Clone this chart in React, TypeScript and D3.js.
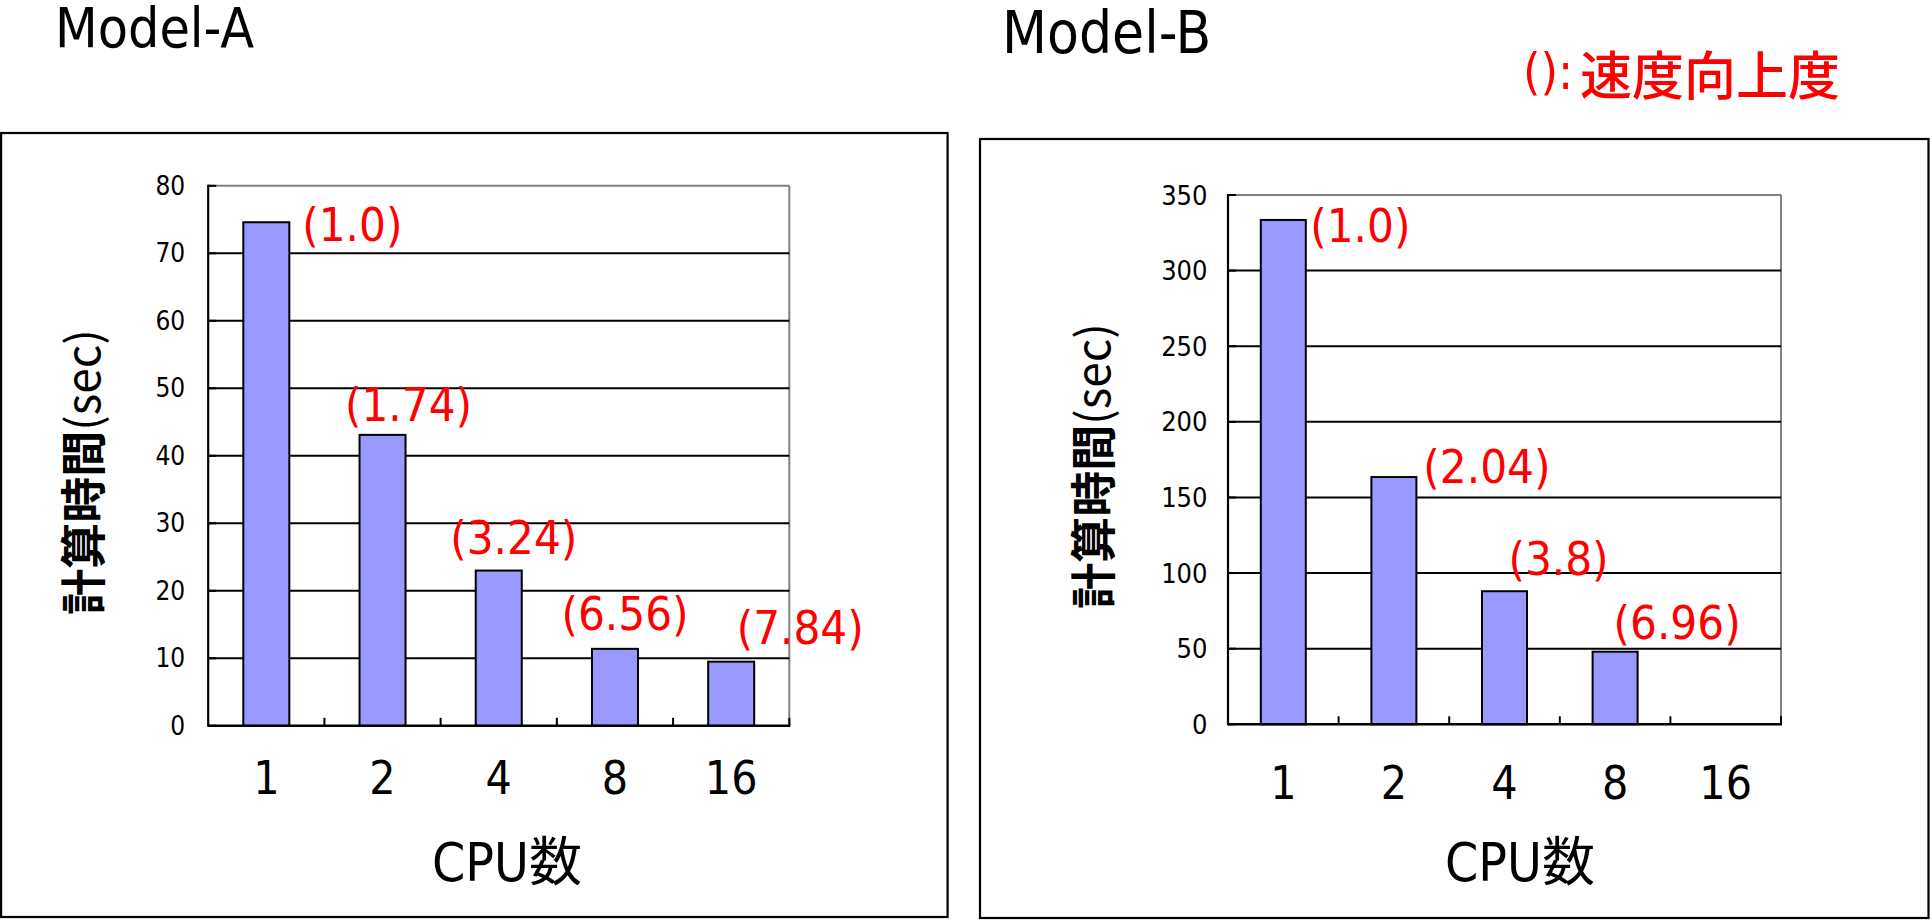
import React from 'react';
import * as d3 from 'd3';

// ---------- data ----------
const categories = ['1', '2', '4', '8', '16'];
const timesA: (number | null)[] = [74.6, 43.1, 23.0, 11.4, 9.5];
const speedupA: (string | null)[] = ['(1.0)', '(1.74)', '(3.24)', '(6.56)', '(7.84)'];
const timesB: (number | null)[] = [333.5, 163.5, 88, 48, null];
const speedupB: (string | null)[] = ['(1.0)', '(2.04)', '(3.8)', '(6.96)', null];
const ticksA = [0, 10, 20, 30, 40, 50, 60, 70, 80];
const ticksB = [0, 50, 100, 150, 200, 250, 300, 350];
const titleA = 'Model-A';
const titleB = 'Model-B';
const legendParen = '():';
const legendKanji = '速度向上度';
const xTitle = 'CPU数';
const yTitleKanji = '計算時間';
const yTitleUnit = '(sec)';

// ---------- layout (pixel offsets of the hand-placed labels) ----------
const labelOffsetsA = [[86, 2], [26, -30], [15, -33], [10, -35], [69, -34]];
const labelOffsetsB = [[77, 6], [93, -11], [54, -33], [62, -29]];

const LATIN = "'DejaVu Sans Condensed', 'DejaVu Sans', 'Noto Sans CJK JP', sans-serif";
const CJK = "'Noto Sans CJK JP', sans-serif";
const BAR_FILL = '#9999FF';

type Cfg = {
  box: { x: number; y: number; w: number; h: number };
  plot: { l: number; r: number; t: number; b: number };
  ticks: number[];
  values: (number | null)[];
  labels: (string | null)[];
  offsets: number[][];
  tickFont: number;
  tickGap: number;
  xLabelY: number;
  xTitleX: number;
  xTitleY: number;
  yTitleX: number;
  yTitleY: number;
  barFrac: number;
};

function Chart({ c }: { c: Cfg }) {
  const x = d3.scaleBand<string>().domain(categories).range([c.plot.l, c.plot.r]).padding(0);
  const y = d3.scaleLinear().domain([0, d3.max(c.ticks) as number]).range([c.plot.b, c.plot.t]);
  const step = x.step();
  const bw = step * c.barFrac;
  const yMax = d3.max(c.ticks) as number;
  return (
    <g>
      <rect x={c.box.x} y={c.box.y} width={c.box.w} height={c.box.h} fill="#fff" stroke="#000" strokeWidth={2.2} />
      {/* plot frame: top & right gray */}
      <line x1={c.plot.l} x2={c.plot.r} y1={c.plot.t} y2={c.plot.t} stroke="#808080" strokeWidth={2} />
      <line x1={c.plot.r} x2={c.plot.r} y1={c.plot.t} y2={c.plot.b} stroke="#808080" strokeWidth={2} />
      {/* gridlines */}
      {c.ticks.filter((t) => t > 0 && t < yMax).map((t) => (
        <line key={'g' + t} x1={c.plot.l} x2={c.plot.r} y1={y(t)} y2={y(t)} stroke="#000" strokeWidth={2} />
      ))}
      {/* y ticks (inward) */}
      {c.ticks.map((t) => (
        <line key={'yt' + t} x1={c.plot.l} x2={c.plot.l + 8} y1={y(t)} y2={y(t)} stroke="#000" strokeWidth={2} />
      ))}
      {/* bars */}
      {c.values.map((v, i) =>
        v == null ? null : (
          <rect
            key={'b' + i}
            x={(x(categories[i]) as number) + (step - bw) / 2}
            y={y(v)}
            width={bw}
            height={y(0) - y(v)}
            fill={BAR_FILL}
            stroke="#000"
            strokeWidth={2}
          />
        )
      )}
      {/* axes */}
      <line x1={c.plot.l} x2={c.plot.l} y1={c.plot.t - 1} y2={c.plot.b + 1} stroke="#000" strokeWidth={2.2} />
      <line x1={c.plot.l} x2={c.plot.r + 1} y1={c.plot.b} y2={c.plot.b} stroke="#000" strokeWidth={2.4} />
      {categories.map((cat, i) => (
        <line
          key={'xt' + i}
          x1={(x(cat) as number) + step}
          x2={(x(cat) as number) + step}
          y1={c.plot.b}
          y2={c.plot.b - 8}
          stroke="#000"
          strokeWidth={2}
        />
      ))}
      {/* y tick labels */}
      {c.ticks.map((t) => (
        <text
          key={'yl' + t}
          x={c.plot.l - c.tickGap}
          y={y(t)}
          textAnchor="end"
          dominantBaseline="central"
          fontFamily={LATIN}
          fontSize={c.tickFont}
          fill="#000"
        >
          {t}
        </text>
      ))}
      {/* x tick labels */}
      {categories.map((cat) => (
        <text
          key={'xl' + cat}
          x={(x(cat) as number) + step / 2}
          y={c.xLabelY}
          textAnchor="middle"
          dominantBaseline="central"
          fontFamily={LATIN}
          fontSize={46}
          fill="#000"
        >
          {cat}
        </text>
      ))}
      {/* data labels */}
      {c.values.map((v, i) =>
        v == null || c.labels[i] == null ? null : (
          <text
            key={'dl' + i}
            x={(x(categories[i]) as number) + step / 2 + c.offsets[i][0]}
            y={y(v) + c.offsets[i][1]}
            textAnchor="middle"
            dominantBaseline="central"
            fontFamily={LATIN}
            fontSize={47}
            fill="#FF0000"
          >
            {c.labels[i]}
          </text>
        )
      )}
      {/* axis titles */}
      <text x={c.xTitleX} y={c.xTitleY} textAnchor="middle" dominantBaseline="central" fontFamily={LATIN} fontSize={53} fill="#000">
        {xTitle}
      </text>
      <text
        transform={`translate(${c.yTitleX},${c.yTitleY}) rotate(-90)`}
        textAnchor="middle"
        dominantBaseline="central"
        fontFamily={CJK}
        fontSize={46}
        fill="#000"
      >
        <tspan fontWeight="bold">{yTitleKanji}</tspan>
        <tspan>{yTitleUnit}</tspan>
      </text>
    </g>
  );
}

const cfgA: Cfg = {
  box: { x: 1.1, y: 133, w: 946.5, h: 784 },
  plot: { l: 208.2, r: 789.3, t: 185.8, b: 725.8 },
  ticks: ticksA,
  values: timesA,
  labels: speedupA,
  offsets: labelOffsetsA,
  tickFont: 26,
  tickGap: 23,
  xLabelY: 778,
  xTitleX: 507,
  xTitleY: 862,
  yTitleX: 80,
  yTitleY: 472,
  barFrac: 0.396,
};

const cfgB: Cfg = {
  box: { x: 980, y: 139, w: 948.5, h: 779 },
  plot: { l: 1228, r: 1781, t: 195, b: 724.3 },
  ticks: ticksB,
  values: timesB,
  labels: speedupB,
  offsets: labelOffsetsB,
  tickFont: 27,
  tickGap: 20.5,
  xLabelY: 783,
  xTitleX: 1520,
  xTitleY: 862,
  yTitleX: 1090,
  yTitleY: 466,
  barFrac: 0.407,
};

export default function App() {
  return (
    <svg
      width={1930}
      height={920}
      viewBox="0 0 1930 920"
      style={{ position: 'absolute', left: 0, top: 0, background: '#fff' }}
    >
      <rect x={0} y={0} width={1930} height={920} fill="#fff" />
      <text x={55} y={47} fontFamily={LATIN} fontSize={55} fill="#000">
        {titleA}
      </text>
      <text x={1002} y={53} fontFamily={LATIN} fontSize={58} fill="#000">
        {titleB}
      </text>
      <text x={1523} y={72} dominantBaseline="central" fontFamily={LATIN} fontSize={50} fill="#FF0000">
        <tspan>{legendParen}</tspan>
        <tspan x={1580} fontFamily={CJK} fontSize={52} fontWeight={500}>{legendKanji}</tspan>
      </text>
      <Chart c={cfgA} />
      <Chart c={cfgB} />
    </svg>
  );
}
